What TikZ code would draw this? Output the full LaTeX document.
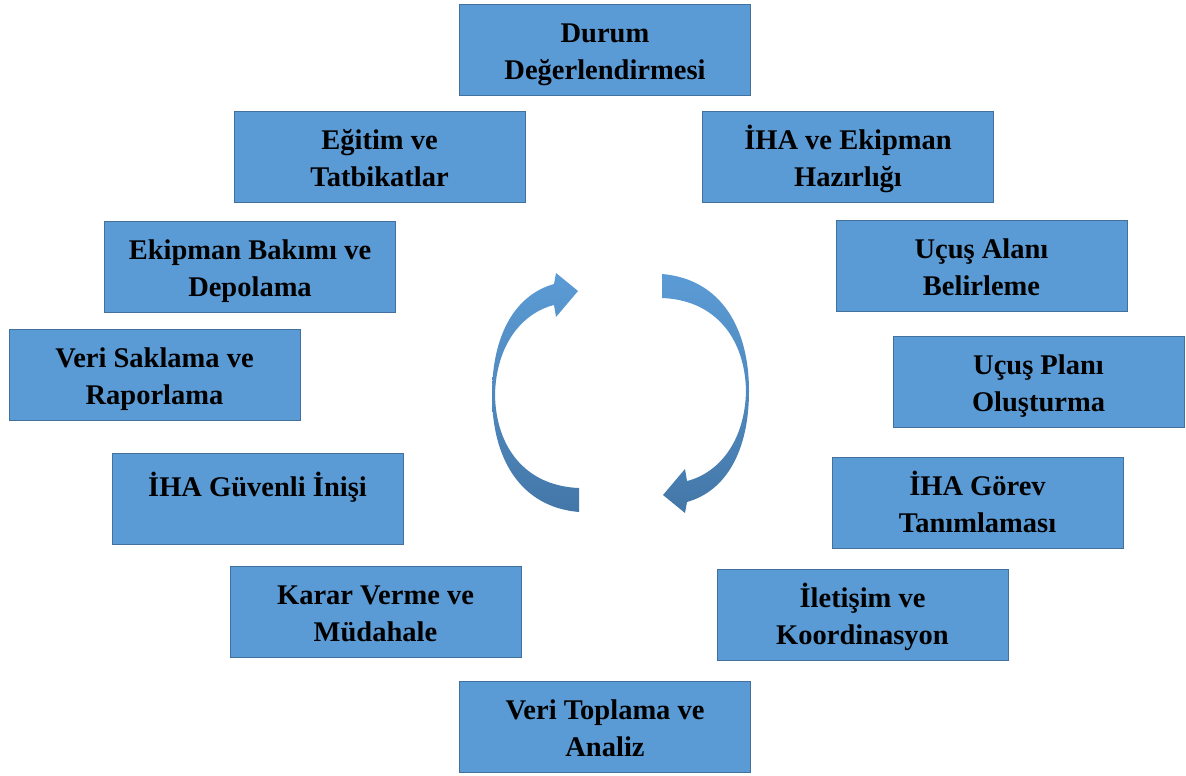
\documentclass[tikz,border=0pt]{standalone}
\usepackage{fontspec}
\setmainfont{Liberation Serif}
\definecolor{mavi}{HTML}{5B9BD5}
\definecolor{kenar}{HTML}{41719C}
\definecolor{acik}{HTML}{5B9BD5}
\definecolor{koyu}{HTML}{4477A8}
% satir yukseklikleri sabit olsun
\newcommand{\ustpay}{\rule{0pt}{30pt}}
\newcommand{\altpay}{\rule[-8pt]{0pt}{8pt}}
\begin{document}
\begin{tikzpicture}[x=1pt,y=-1pt,
    kutu/.style={draw=kenar, fill=mavi, line width=0.8pt, minimum width=291pt, minimum height=91pt,
        inner sep=0pt, align=center, font=\fontsize{28.5}{37}\selectfont\bfseries},
]
\useasboundingbox (0,0) rectangle (1186,776);

\node[kutu] (durum) at (605,50){\ustpay Durum\\Değerlendirmesi\altpay};
\node[kutu] (egitim) at (379.5,156.5){\ustpay Eğitim ve\\Tatbikatlar\altpay};
\node[kutu] (hazirlik) at (848,156.5){\ustpay İHA ve Ekipman\\Hazırlığı\altpay};
\node[kutu] (bakim) at (250,267){\ustpay Ekipman Bakımı ve\\Depolama\altpay};
\node[kutu] (alan) at (981.5,265.5){\ustpay Uçuş Alanı\\Belirleme\altpay};
\node[kutu] (saklama) at (154.5,375){\ustpay Veri Saklama ve\\Raporlama\altpay};
\node[kutu] (plan) at (1038.5,381.5){\ustpay Uçuş Planı\\Oluşturma\altpay};
\node[kutu, text height=20pt, text depth=24pt] (inis) at (257.5,498.5){İHA Güvenli İnişi};
\node[kutu] (gorev) at (977.5,502.5){\ustpay İHA Görev\\Tanımlaması\altpay};
\node[kutu] (karar) at (375.5,611.5){\ustpay Karar Verme ve\\Müdahale\altpay};
\node[kutu] (iletisim) at (862.5,614.5){\ustpay İletişim ve\\Koordinasyon\altpay};
\node[kutu] (toplama) at (605,727){\ustpay Veri Toplama ve\\Analiz\altpay};

% dairesel oklar
\coordinate (merkez) at (620.5,393);
\foreach \aci in {0,180} {
  \begin{scope}[rotate around={\aci:(merkez)}]
    \shade[top color=acik, middle color=acik, bottom color=koyu]
      (579,512) .. controls (520,507) and (492,458) .. (492,395)
      .. controls (492,335) and (515,295) .. (554,284)
      -- (556,273) -- (578,291) -- (556,317) -- (554,305)
      .. controls (522,313) and (496,345) .. (495,395)
      .. controls (496,448) and (526,486) .. (579,488) -- cycle;
  \end{scope}
}

\end{tikzpicture}
\end{document}
